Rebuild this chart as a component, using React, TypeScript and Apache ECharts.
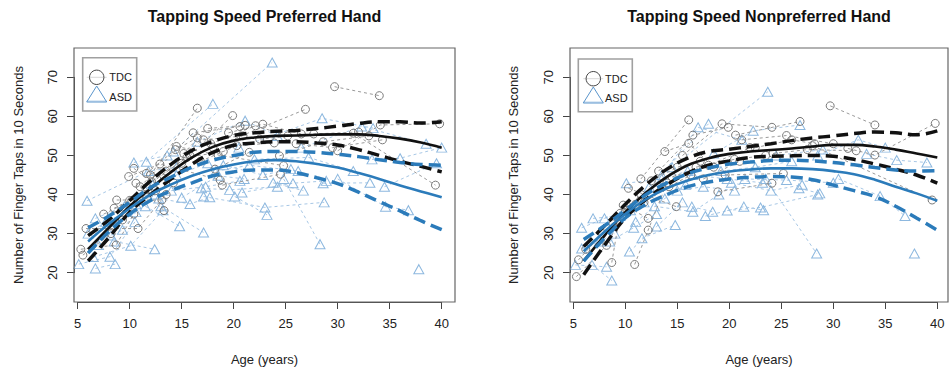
import React, { useEffect, useRef } from 'react';
import * as echarts from 'echarts';

const FONT = '"Liberation Sans", Arial, Helvetica, sans-serif';

// ---------- fitted curves (ages and values) ----------
const CURVE_AGES = [6, 8, 10, 12, 14, 16, 18, 20, 22, 24, 26, 28, 30, 32, 34, 36, 38, 40];

// Preferred hand
const tdcMeanP = [26, 31.5, 37, 41.5, 45.8, 49.5, 52.2, 53.8, 54.6, 55, 55.1, 55.3, 55.4, 55.4, 55, 54.3, 53.3, 52];
const tdcUpP = [29.5, 33.5, 38.5, 43.5, 47.8, 51.3, 53.6, 55.1, 55.8, 56.2, 56.4, 56.9, 57.5, 58.2, 58.6, 58.6, 58.3, 58.6];
const tdcLoP = [23, 29, 35.5, 40, 44, 47.8, 50.8, 52.6, 53.2, 53.5, 53.5, 53.2, 52.7, 51.5, 50, 48.5, 47.2, 45.8];
const asdMeanP = [28, 32.5, 36.5, 40, 42.6, 44.8, 46.5, 47.7, 48.5, 48.8, 48.5, 47.8, 46.9, 45.5, 44, 42.3, 40.8, 39.3];
const asdUpP = [31.5, 34.5, 38, 41.8, 44.5, 47, 48.8, 50, 50.8, 51, 51, 50.8, 50.3, 49.7, 48.9, 48.2, 47.7, 47.5];
const asdLoP = [25, 30.5, 35, 38.5, 41, 43, 44.8, 45.8, 46.3, 46.3, 45.6, 44.3, 42.8, 40.6, 38.2, 35.8, 33.3, 31];

// Nonpreferred hand
const tdcMeanN = [23, 29.5, 35.5, 40.5, 44.5, 47.5, 49.3, 50.4, 51, 51.4, 51.8, 52.3, 52.7, 52.7, 52.3, 51.5, 50.5, 49.5];
const tdcUpN = [26.7, 32, 37.5, 42.5, 46.5, 49.3, 51, 51.6, 52.3, 53, 53.8, 54.5, 55, 55.6, 56, 55.8, 55.3, 56.3];
const tdcLoN = [19.5, 27, 34, 38.8, 42.5, 45.5, 47.5, 48.6, 49.5, 49.8, 49.9, 50, 49.8, 49, 47.8, 46.5, 45, 42.9];
const asdMeanN = [25.5, 30.5, 35, 38.8, 41.6, 43.6, 45, 45.9, 46.4, 46.7, 46.7, 46.5, 46, 45.2, 43.8, 42, 40.3, 38.4];
const asdUpN = [28.5, 32, 36, 40, 43, 45.3, 46.8, 47.8, 48.3, 48.7, 48.8, 48.6, 48.2, 47.6, 46.9, 46.3, 46, 46.1];
const asdLoN = [23, 28.8, 34, 37.5, 40, 42, 43.2, 44, 44.4, 44.6, 44.5, 43.8, 42.4, 41, 39.5, 37, 34, 30.9];

// ---------- individual subjects: [age, taps] visits ----------
const tdcSubjectsP: number[][][] = [
  [[29.7, 67.6], [34.0, 65.3]],
  [[12.0, 45.0], [16.5, 62.1]],
  [[18.0, 52.0], [26.9, 61.8]],
  [[15.0, 48.0], [19.9, 60.2]],
  [[13.5, 46.0], [17.5, 56.9], [21.1, 57.7]],
  [[11.0, 42.0], [16.1, 55.8], [20.6, 57.4]],
  [[17.8, 53.0], [22.1, 57.6], [25.2, 55.0]],
  [[30.0, 51.2], [34.1, 57.8], [39.8, 58.1]],
  [[31.5, 55.7], [39.4, 42.4]],
  [[24.4, 49.9], [28.6, 53.5], [33.0, 55.0]],
  [[18.9, 42.4], [24.5, 45.2]],
  [[14.5, 52.3], [18.5, 50.1], [24.8, 47.4]],
  [[9.9, 44.6], [12.9, 47.8], [18.7, 43.7]],
  [[8.75, 38.6], [13.1, 38.6]],
  [[10.6, 42.9], [13.3, 35.9]],
  [[5.8, 31.3], [10.8, 31.3], [13.5, 40.0]],
  [[5.3, 26.0], [8.7, 27.1], [10.4, 35.0]],
  [[5.5, 24.5], [8.2, 30.0]],
  [[10.4, 46.7], [12.1, 43.3], [15.8, 50.0]],
  [[11.6, 45.4], [14.4, 51.5], [16.5, 54.5]],
  [[9.3, 33.5], [11.5, 40.0], [14.2, 43.0]],
  [[19.5, 55.8], [22.8, 58.0], [26.5, 55.5]],
  [[16.8, 48.5], [20.3, 52.5], [23.9, 53.2]],
  [[7.5, 35.0], [10.2, 38.5], [12.5, 41.0]],
  [[26.0, 53.0], [29.5, 52.0], [34.3, 54.0]],
  [[18.2, 46.5], [21.5, 50.8]],
  [[12.6, 44.0], [15.5, 49.5], [19.0, 51.0]],
  [[8.5, 36.5], [10.0, 38.5]],
  [[22.5, 54.2], [27.7, 55.5], [32.0, 56.0]],
  [[15.2, 50.5], [17.1, 54.0], [20.9, 55.0]],
];

const asdSubjectsP: number[][][] = [
  [[14.2, 51.0], [23.7, 73.8]],
  [[11.6, 48.4], [18.0, 63.2]],
  [[20.5, 52.0], [28.5, 59.5], [33.4, 57.0]],
  [[16.5, 53.5], [21.1, 58.9], [24.2, 55.0]],
  [[26.5, 52.0], [32.3, 57.4], [38.5, 53.0]],
  [[33.3, 49.0], [36.0, 49.3], [40.0, 52.0]],
  [[28.6, 42.9], [33.1, 43.0]],
  [[20.8, 40.5], [25.7, 42.9], [28.9, 43.5]],
  [[23.8, 43.0], [26.7, 41.0]],
  [[17.1, 39.5], [23.0, 36.7], [28.7, 38.0]],
  [[20.1, 39.5], [23.2, 34.8]],
  [[24.8, 44.0], [28.3, 27.3]],
  [[30.0, 44.0], [34.6, 36.9], [36.8, 36.0]],
  [[37.8, 20.9]],
  [[16.9, 41.6], [19.6, 41.2], [24.2, 42.0]],
  [[13.0, 37.0], [17.1, 30.3]],
  [[12.8, 39.0], [15.8, 37.6], [17.7, 39.3]],
  [[11.5, 37.0], [14.8, 31.9]],
  [[8.5, 28.0], [12.4, 26.0]],
  [[6.5, 24.0], [10.1, 26.9], [13.2, 36.0]],
  [[5.1, 22.2], [8.1, 24.1], [10.5, 33.0]],
  [[6.7, 21.1], [8.6, 22.2]],
  [[5.9, 38.4], [11.8, 46.0], [14.5, 47.0]],
  [[6.7, 33.9], [9.5, 37.0], [11.5, 41.0]],
  [[7.0, 27.1], [9.3, 31.0], [10.6, 35.5]],
  [[10.4, 48.2], [13.6, 50.0]],
  [[15.0, 39.2], [18.5, 44.8], [21.0, 44.0]],
  [[12.2, 42.5], [14.5, 45.0], [17.5, 48.0]],
  [[18.3, 46.0], [21.5, 47.5], [26.2, 46.0]],
  [[14.0, 41.0], [17.3, 42.0], [20.6, 43.5]],
  [[8.2, 29.5], [10.6, 37.5], [12.5, 40.0]],
  [[22.0, 49.0], [27.2, 49.5], [31.5, 46.0]],
  [[19.0, 47.5], [22.8, 45.0], [25.5, 46.5]],
  [[6.0, 30.0], [7.7, 33.0], [9.7, 35.5]],
  [[34.5, 42.0], [39.5, 48.0]],
];

const tdcSubjectsN: number[][][] = [
  [[29.7, 62.7], [34.0, 57.8]],
  [[11.5, 44.0], [16.1, 59.1]],
  [[13.2, 46.0], [16.5, 55.2], [19.9, 57.2]],
  [[15.5, 50.0], [19.3, 58.1], [24.1, 57.2]],
  [[20.6, 55.2], [26.8, 58.7]],
  [[21.2, 54.0], [25.5, 55.1], [30.0, 53.0]],
  [[31.4, 51.8], [34.0, 50.1], [39.8, 58.2]],
  [[28.0, 52.5], [39.5, 38.6]],
  [[18.9, 40.7], [24.1, 42.9]],
  [[19.6, 45.0], [25.2, 45.4]],
  [[13.8, 51.0], [16.1, 53.1], [18.5, 47.0]],
  [[10.3, 41.6], [14.9, 36.9]],
  [[10.9, 22.1], [12.2, 30.9], [14.0, 43.0]],
  [[9.8, 37.3], [12.2, 33.9]],
  [[8.7, 22.6], [9.5, 35.2], [11.5, 40.0]],
  [[5.3, 19.0], [8.2, 27.0], [10.2, 37.0]],
  [[5.5, 23.3], [7.8, 30.0], [10.0, 36.0]],
  [[12.5, 43.5], [15.0, 47.0], [17.2, 48.5]],
  [[22.5, 52.0], [26.0, 54.0], [28.2, 53.0]],
  [[16.8, 47.0], [20.5, 49.0], [23.5, 50.0]],
  [[11.8, 38.0], [14.2, 42.0], [16.3, 45.0]],
  [[24.2, 50.5], [27.5, 51.5], [32.2, 51.2]],
  [[17.5, 44.0], [21.0, 48.5]],
  [[6.2, 26.0], [8.8, 32.5], [11.0, 37.5]],
  [[14.5, 44.5], [18.0, 47.5], [22.0, 52.0]],
];

const asdSubjectsN: number[][][] = [
  [[14.5, 47.0], [23.7, 66.3]],
  [[12.3, 42.0], [18.0, 58.1]],
  [[13.5, 45.0], [17.0, 57.2], [21.2, 54.0]],
  [[18.5, 50.5], [22.3, 56.3], [26.8, 57.8]],
  [[28.5, 50.0], [32.4, 54.0], [35.0, 52.0]],
  [[33.2, 50.4], [36.1, 48.8], [39.0, 48.2]],
  [[26.7, 41.6], [28.7, 40.3]],
  [[23.5, 44.0], [28.4, 24.9]],
  [[21.5, 44.0], [25.5, 43.7], [30.0, 43.0]],
  [[19.8, 35.9], [23.0, 36.7], [28.5, 40.0]],
  [[17.7, 34.5], [21.4, 36.9], [23.3, 36.0]],
  [[16.4, 36.9], [18.4, 35.6]],
  [[30.5, 44.0], [34.5, 39.6], [36.9, 34.5]],
  [[37.8, 24.9]],
  [[11.6, 28.8], [14.8, 32.2]],
  [[10.4, 25.4], [13.0, 31.8], [15.5, 38.0]],
  [[6.8, 22.0], [8.7, 18.0]],
  [[5.2, 22.0], [8.2, 21.5]],
  [[5.8, 31.5], [8.0, 33.9], [10.5, 36.0]],
  [[6.9, 33.9], [9.5, 34.5], [11.8, 38.0]],
  [[5.8, 26.2], [7.5, 28.0], [9.0, 30.0]],
  [[10.1, 42.9], [13.5, 44.0], [16.0, 46.0]],
  [[12.8, 37.0], [16.5, 35.6], [19.0, 40.0]],
  [[15.0, 41.0], [17.5, 42.0], [20.5, 41.0]],
  [[19.2, 46.0], [22.5, 47.0], [26.0, 48.5]],
  [[16.5, 45.0], [19.8, 44.0], [23.2, 43.0]],
  [[11.0, 33.0], [13.8, 39.0], [15.8, 42.5]],
  [[24.5, 50.0], [29.0, 51.5]],
  [[8.5, 28.0], [10.8, 31.5], [13.0, 35.0]],
  [[20.2, 43.0], [24.0, 41.0], [27.0, 42.5]],
];

const X_TICKS = { min: 5, max: 40, interval: 5 };
const Y_TICKS = { min: 20, max: 70, interval: 10 };

// ---------- styles ----------
const TDC_PT = '#7a7a7a';
const TDC_LN = '#9a9a9a';
const ASD_PT = '#8db8df';
const ASD_LN = '#a8c8e6';
const BLACK = '#111111';
const BLUE = '#2b7bba';

function subjectSeries(subjects: number[][][], idx: number, tdc: boolean) {
  return subjects.map((s) => ({
    type: 'line',
    xAxisIndex: idx,
    yAxisIndex: idx,
    data: s,
    clip: false,
    silent: true,
    symbol: tdc ? 'circle' : 'triangle',
    symbolSize: tdc ? 8 : [10, 9],
    showSymbol: true,
    itemStyle: {
      color: 'rgba(0,0,0,0)',
      borderColor: tdc ? TDC_PT : ASD_PT,
      borderWidth: 1,
    },
    lineStyle: {
      color: tdc ? TDC_LN : ASD_LN,
      width: 1,
      type: [3, 3],
    },
    z: tdc ? 3 : 2,
  }));
}

function curve(vals: number[], idx: number, color: string, dashed: boolean) {
  return {
    type: 'line',
    xAxisIndex: idx,
    yAxisIndex: idx,
    data: CURVE_AGES.map((a, i) => [a, vals[i]]),
    smooth: 0.4,
    showSymbol: false,
    symbol: 'none',
    clip: false,
    silent: true,
    lineStyle: {
      color,
      width: dashed ? 3.5 : 2.6,
      type: dashed ? [12, 6] : 'solid',
    },
    z: 5,
  };
}

function xAxis(idx: number) {
  return {
    gridIndex: idx,
    type: 'value',
    ...X_TICKS,
    offset: 29.3,
    axisLine: { show: true, onZero: false, lineStyle: { color: '#444', width: 1 } },
    axisTick: { show: true, length: 7, lineStyle: { color: '#444', width: 1 } },
    axisLabel: { color: '#222', fontSize: 13, margin: 15, fontFamily: FONT },
    splitLine: { show: false },
  };
}

function yAxis(idx: number, off: number) {
  return {
    gridIndex: idx,
    type: 'value',
    ...Y_TICKS,
    offset: off,
    axisLine: { show: true, onZero: false, lineStyle: { color: '#444', width: 1 } },
    axisTick: { show: true, length: 7, lineStyle: { color: '#444', width: 1 } },
    axisLabel: { color: '#222', fontSize: 13, margin: 15, rotate: 90, fontFamily: FONT },
    splitLine: { show: false },
  };
}

function legendGraphics(bx: number, by: number, bw: number, bh: number, sx: number, cy: number, ty: number, tx: number) {
  return [
    { type: 'rect', shape: { x: bx, y: by, width: bw, height: bh }, style: { fill: 'none', stroke: '#a0a0a0', lineWidth: 1.6 }, z: 20 },
    { type: 'line', shape: { x1: sx - 10, y1: cy, x2: sx + 10, y2: cy }, style: { stroke: '#d8d8d8', lineWidth: 1 }, z: 20 },
    { type: 'line', shape: { x1: sx - 10, y1: ty + 5, x2: sx + 10, y2: ty + 5 }, style: { stroke: '#c7dcef', lineWidth: 1.2 }, z: 20 },
    { type: 'circle', shape: { cx: sx, cy, r: 7.2 }, style: { fill: 'none', stroke: '#444', lineWidth: 1 }, z: 21 },
    {
      type: 'polygon',
      shape: { points: [[sx, ty - 10], [sx - 10, ty + 6], [sx + 10, ty + 6]] },
      style: { fill: 'none', stroke: '#5a95cc', lineWidth: 1 },
      z: 21,
    },
    { type: 'text', x: tx, y: cy, style: { text: 'TDC', fontSize: 11, fontFamily: FONT, fill: '#222', verticalAlign: 'middle', align: 'left' }, z: 21 },
    { type: 'text', x: tx, y: ty + 1, style: { text: 'ASD', fontSize: 11, fontFamily: FONT, fill: '#222', verticalAlign: 'middle', align: 'left' }, z: 21 },
  ];
}

function panelText(cx: number, ylabX: number, title: string) {
  return [
    { type: 'text', x: cx, y: 16, style: { text: title, fontSize: 16, fontWeight: 'bold', fontFamily: FONT, fill: '#111', align: 'center', verticalAlign: 'middle' } },
    { type: 'text', x: cx, y: 359, style: { text: 'Age (years)', fontSize: 13, fontFamily: FONT, fill: '#222', align: 'center', verticalAlign: 'middle' } },
    {
      type: 'text', x: ylabX, y: 175, rotation: Math.PI / 2,
      style: { text: 'Number of Finger Taps in 10 Seconds', fontSize: 13, fontFamily: FONT, fill: '#222', align: 'center', verticalAlign: 'middle' },
    },
  ];
}

export default function App() {
  const ref = useRef<HTMLDivElement>(null);
  useEffect(() => {
    if (!ref.current) return;
    const chart = echarts.init(ref.current, null, { renderer: 'svg' });
    const option = {
      animation: false,
      backgroundColor: '#ffffff',
      grid: [
        { left: 77.7, right: 508.3, top: 77.3, bottom: 102.3 },
        { left: 573.3, right: 12.7, top: 77.3, bottom: 102.3 },
      ],
      xAxis: [xAxis(0), xAxis(1)],
      yAxis: [yAxis(0, 3.7), yAxis(1, 3.3)],
      series: [
        ...subjectSeries(asdSubjectsP, 0, false),
        ...subjectSeries(tdcSubjectsP, 0, true),
        ...subjectSeries(asdSubjectsN, 1, false),
        ...subjectSeries(tdcSubjectsN, 1, true),
        curve(tdcUpP, 0, BLACK, true),
        curve(tdcLoP, 0, BLACK, true),
        curve(tdcMeanP, 0, BLACK, false),
        curve(asdUpP, 0, BLUE, true),
        curve(asdLoP, 0, BLUE, true),
        curve(asdMeanP, 0, BLUE, false),
        curve(tdcUpN, 1, BLACK, true),
        curve(tdcLoN, 1, BLACK, true),
        curve(tdcMeanN, 1, BLACK, false),
        curve(asdUpN, 1, BLUE, true),
        curve(asdLoN, 1, BLUE, true),
        curve(asdMeanN, 1, BLUE, false),
      ],
      graphic: [
        { type: 'rect', shape: { x: 74, y: 48, width: 381, height: 254 }, style: { fill: 'none', stroke: '#666', lineWidth: 1.2 }, z: 10 },
        { type: 'rect', shape: { x: 570, y: 48, width: 378, height: 254 }, style: { fill: 'none', stroke: '#666', lineWidth: 1.2 }, z: 10 },
        ...legendGraphics(82.7, 57.7, 54, 53.3, 96.7, 77.3, 96, 109.3),
        ...legendGraphics(578.3, 59, 54, 52.7, 593.3, 78.7, 97, 605),
        ...panelText(264.5, 18, 'Tapping Speed Preferred Hand'),
        ...panelText(759, 513, 'Tapping Speed Nonpreferred Hand'),
      ],
    };
    chart.setOption(option as any);
    return () => chart.dispose();
  }, []);
  return <div ref={ref} style={{ position: 'fixed', left: 0, top: 0, width: 950, height: 375 }} />;
}
